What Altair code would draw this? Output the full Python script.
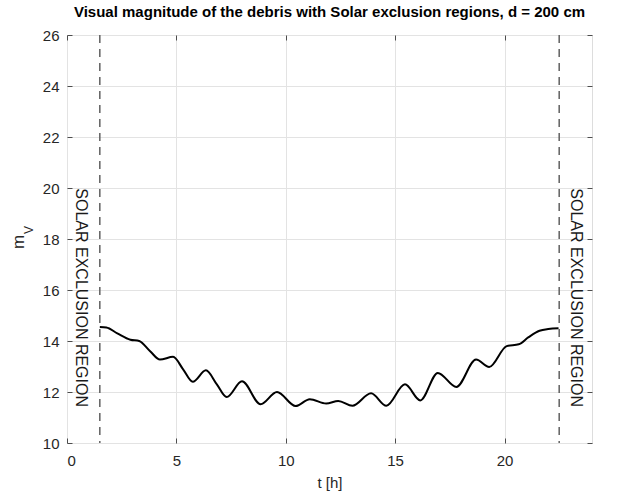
import altair as alt
import pandas as pd

# Curve: visual magnitude vs time
t_h = [1.5, 1.8, 2.3, 2.9, 3.3, 3.8, 4.25, 4.85, 5.3, 5.75, 6.35, 6.85, 7.3, 8.0,
       8.85, 9.6, 10.45, 11.1, 11.85, 12.4, 13.05, 13.9, 14.6, 15.45, 16.15,
       16.95, 17.8, 18.7, 19.3, 20.1, 20.65, 21.1, 21.6, 22.0, 22.47]
m_v = [14.55, 14.53, 14.3, 14.05, 14.0, 13.6, 13.27, 13.38, 12.9, 12.4, 12.85, 12.3,
       11.8, 12.42, 11.52, 12.0, 11.45, 11.72, 11.55, 11.65, 11.46, 11.95, 11.46,
       12.3, 11.67, 12.75, 12.2, 13.27, 12.98, 13.8, 13.87, 14.15, 14.4, 14.47, 14.5]

excl_t = [1.5, 22.5]
label_t = [0.63, 23.27]
label_m = [15.7, 15.7]
label_text = ["SOLAR EXCLUSION REGION", "SOLAR EXCLUSION REGION"]

x_ticks = [0, 5, 10, 15, 20]
y_ticks = [10, 12, 14, 16, 18, 20, 22, 24, 26]

FONT = "Liberation Sans"
AX = "#4d4d4d"

curve = pd.DataFrame({"t": t_h, "m": m_v})
excl = pd.DataFrame({"t": excl_t})
labels = pd.DataFrame({"t": label_t, "m": label_m, "txt": label_text})

xs = alt.Scale(domain=[0, 24], nice=False, zero=False)
ys = alt.Scale(domain=[10, 26], nice=False, zero=False)

common_axis = dict(domain=False, tickSize=5, offset=-5, tickColor=AX, tickWidth=1,
                   labelFont=FONT, labelFontSize=15, labelColor="#262626",
                   gridColor="#e3e3e3", gridWidth=1)

line = alt.Chart(curve).mark_line(color="black", strokeWidth=2, interpolate="monotone").encode(
    x=alt.X("t:Q", scale=xs,
            axis=alt.Axis(values=x_ticks, title="t [h]", grid=True, labelPadding=10,
                          titleFont=FONT, titleFontSize=15, titleFontWeight="normal",
                          titleColor="#262626", titlePadding=7, **common_axis)),
    y=alt.Y("m:Q", scale=ys,
            axis=alt.Axis(values=y_ticks, title=None, grid=True, labelPadding=8,
                          **common_axis)),
)

rules = alt.Chart(excl).mark_rule(color="#606060", strokeWidth=1.5, strokeDash=[8, 6]).encode(
    x=alt.X("t:Q", scale=xs,
            axis=alt.Axis(values=x_ticks, orient="top", labels=False, title=None, grid=False,
                          **common_axis)),
)

texts = alt.Chart(labels).mark_text(angle=90, font=FONT, fontSize=16, color="#1a1a1a",
                                    align="center", baseline="middle").encode(
    x=alt.X("t:Q", scale=xs, axis=None),
    y=alt.Y("m:Q", scale=ys,
            axis=alt.Axis(values=y_ticks, orient="right", labels=False, title=None, grid=False,
                          **common_axis)),
    text="txt:N",
)

ylab_m = alt.Chart(pd.DataFrame({"s": ["m"]})).mark_text(
    angle=270, font=FONT, fontSize=17, color="#262626", align="center", baseline="middle"
).encode(x=alt.value(-48), y=alt.value(207), text="s:N")
ylab_v = alt.Chart(pd.DataFrame({"s": ["V"]})).mark_text(
    angle=270, font=FONT, fontSize=12, color="#262626", align="center", baseline="middle"
).encode(x=alt.value(-38), y=alt.value(195), text="s:N")

chart = alt.layer(line, rules, texts, ylab_m, ylab_v).resolve_axis(
    x="independent", y="independent"
).properties(
    width=525, height=408,
    title=alt.TitleParams("Visual magnitude of the debris with Solar exclusion regions, d = 200 cm",
                          font=FONT, fontSize=15, fontWeight="bold", color="black",
                          anchor="middle", offset=8),
    autosize=alt.AutoSizeParams(type="none"),
    padding={"left": 67, "top": 35, "right": 52, "bottom": 52},
).configure_view(stroke=AX, strokeWidth=1).configure(background="white")

chart.save("out.html", embed_options={"renderer": "svg", "actions": False})
